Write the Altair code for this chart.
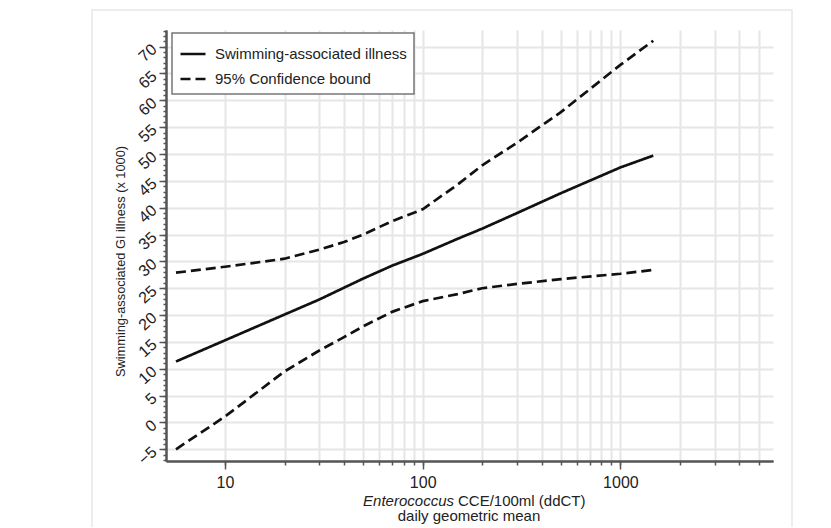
import altair as alt
import pandas as pd

# ---- data ----
x_vals = [5.65, 10, 20, 30, 40, 50, 70, 100, 150, 200, 300, 500, 1000, 1466]
illness = [11.35, 15.3, 20.1, 22.9, 25.1, 26.8, 29.2, 31.4, 34.2, 36.1, 39.0, 42.7, 47.5, 49.7]
upper = [27.9, 29.0, 30.5, 32.2, 33.6, 35.0, 37.5, 39.7, 44.3, 47.9, 52.1, 57.8, 66.6, 71.1]
lower = [-5.0, 1.1, 9.5, 13.4, 15.9, 17.9, 20.6, 22.6, 23.9, 25.0, 25.8, 26.7, 27.7, 28.4]

series_names = ["Swimming-associated illness", "95% Confidence bound"]
x_major = [10, 100, 1000]
x_minor = [10, 20, 30, 40, 50, 60, 70, 80, 90,
           100, 200, 300, 400, 500, 600, 700, 800, 900,
           1000, 2000, 3000, 4000, 5000]
y_major = list(range(-5, 71, 5))
y_minor = list(range(-7, 74))
x_domain = [5.03, 5915]
y_domain = [-7.18, 73.1]

rows = []
for xv, a, u, l in zip(x_vals, illness, upper, lower):
    rows.append({"x": xv, "y": a, "series": series_names[0], "curve": "mid"})
    rows.append({"x": xv, "y": u, "series": series_names[1], "curve": "up"})
    rows.append({"x": xv, "y": l, "series": series_names[1], "curve": "low"})
df = pd.DataFrame(rows)

W, H = 607, 431
FONT = "Liberation Sans"
xs = alt.Scale(type="log", domain=x_domain, nice=False)
ys = alt.Scale(domain=y_domain, nice=False, zero=False)

common_axis = dict(domainColor="#555", domainWidth=2, tickColor="#555", tickWidth=1.5)

lines = alt.Chart(df).mark_line(color="#111", strokeWidth=2.7).encode(
    x=alt.X("x:Q", scale=xs, axis=alt.Axis(orient="bottom", values=x_minor, grid=True,
            gridColor="#e6e6e6", gridWidth=2, labels=False, tickSize=4, title=None, **common_axis)),
    y=alt.Y("y:Q", scale=ys, axis=alt.Axis(orient="left", values=y_minor, grid=False,
            labels=False, tickSize=3, title=None, **common_axis)),
    strokeDash=alt.StrokeDash("series:N",
            scale=alt.Scale(domain=series_names, range=[[1, 0], [10, 5]]),
            legend=alt.Legend(title=None)),
    detail="curve:N",
)

major = alt.Chart(df).mark_point(opacity=0).encode(
    x=alt.X("x:Q", scale=xs, axis=alt.Axis(orient="bottom", values=x_major, grid=False,
            tickSize=8, labelFontSize=16, labelFont=FONT, labelColor="#222", format="d",
            labelPadding=5, title=None, **common_axis)),
    y=alt.Y("y:Q", scale=ys, axis=alt.Axis(orient="left", values=y_major, grid=True,
            gridColor="#e6e6e6", gridWidth=2, tickSize=7, labelFontSize=16, labelFont=FONT,
            labelColor="#222", labelAngle=-42, labelAlign="right", labelBaseline="middle",
            labelPadding=5,
            title="Swimming-associated GI illness (x 1000)", titleFont=FONT,
            titleFontSize=12.8, titleFontWeight="normal", titleColor="#222",
            titleX=-46, titleY=231, titleBaseline="middle", **common_axis)),
)

one = pd.DataFrame({"k": [0]})
frame = alt.Chart(one).mark_rect(fillOpacity=0, stroke="#e8e8e8", strokeWidth=1.5).encode(
    x=alt.value(-74), x2=alt.value(626), y=alt.value(-20), y2=alt.value(500))

t1 = alt.Chart(one).mark_text(text="Enterococcus", fontStyle="italic", font=FONT, fontSize=15,
                              align="right", baseline="middle", color="#222").encode(
    x=alt.value(288), y=alt.value(471))
t2 = alt.Chart(one).mark_text(text="CCE/100ml (ddCT)", font=FONT, fontSize=15,
                              align="left", baseline="middle", color="#222").encode(
    x=alt.value(292), y=alt.value(471))
t3 = alt.Chart(one).mark_text(text="daily geometric mean", font=FONT, fontSize=15,
                              align="center", baseline="middle", color="#222").encode(
    x=alt.value(303), y=alt.value(486))

chart = alt.layer(frame, major, lines, t1, t2, t3).resolve_axis(
    x="independent", y="independent"
).properties(
    width=W, height=H,
    autosize=alt.AutoSizeParams(type="none"),
    padding={"left": 158, "top": 22, "right": 50, "bottom": 66},
    background="white",
).configure_view(stroke=None).configure_legend(
    orient="none", legendX=6, legendY=3, fillColor="white", strokeColor="#777",
    strokeWidth=1.5, padding=7, symbolType="stroke", symbolSize=625,
    symbolStrokeWidth=2.7, symbolStrokeColor="#111", labelFont=FONT, labelFontSize=15,
    labelColor="#222", labelOffset=8, rowPadding=3, cornerRadius=0, labelLimit=0,
)

chart.save("out.html", embed_options={"renderer": "svg", "actions": False})
